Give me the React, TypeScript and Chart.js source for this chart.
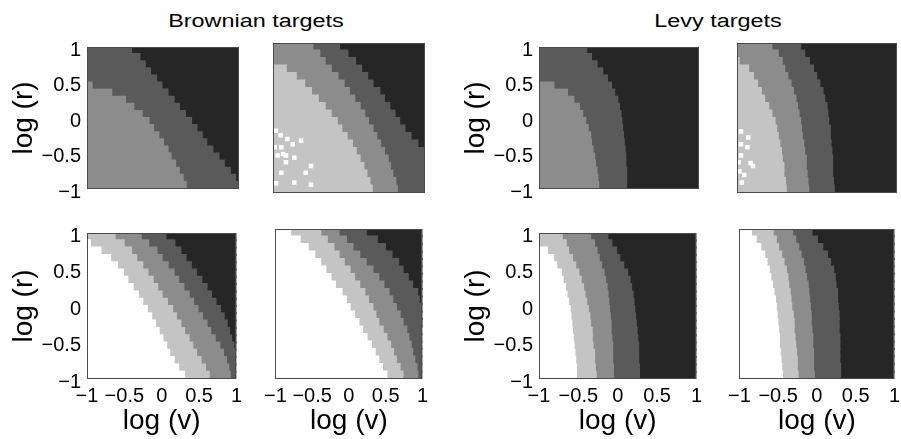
import React, { useEffect, useRef } from 'react';
import { Chart, registerables } from 'chart.js';

Chart.register(...registerables);

// ---------- data ----------
// centres of the grid rows, top to bottom (log r)
const rowCenters = [0.95, 0.85, 0.75, 0.65, 0.55, 0.45, 0.35, 0.25, 0.15, 0.05, -0.05, -0.15, -0.25, -0.35, -0.45, -0.55, -0.65, -0.75, -0.85, -0.95];
const axisTicks = [-1, -0.5, 0, 0.5, 1];
const levelColors = ['#ffffff', '#c4c4c4', '#8c8c8c', '#5a5a5a', '#262626'];
const groupTitles = ['Brownian targets', 'Levy targets'];
const xTitle = 'log (v)';
const yTitle = 'log (r)';

// For each panel: log(v) at which level >= k starts in every row (k = 1..4)
// Brownian, top-left
const brTL1 = [-1, -1, -1, -1, -1, -1, -1, -1, -1, -1, -1, -1, -1, -1, -1, -1, -1, -1, -1, -1];
const brTL2 = [-1, -1, -1, -1, -1, -1, -1, -1, -1, -1, -1, -1, -1, -1, -1, -1, -1, -1, -1, -1];
const brTL3 = [-1, -1, -1, -1, -1, -0.94, -0.68, -0.5, -0.39, -0.28, -0.19, -0.13, -0.06, 0.0, 0.06, 0.1, 0.16, 0.21, 0.26, 0.3];
const brTL4 = [-0.42, -0.31, -0.24, -0.17, -0.09, -0.02, 0.06, 0.14, 0.21, 0.29, 0.37, 0.44, 0.51, 0.57, 0.65, 0.73, 0.8, 0.88, 0.95, 0.99];
// Brownian, top-right
const brTR1 = [-1, -1, -1, -1, -1, -1, -1, -1, -1, -1, -1, -1, -1, -1, -1, -1, -1, -1, -1, -1];
const brTR2 = [-1, -1, -1, -0.83, -0.7, -0.59, -0.5, -0.41, -0.32, -0.24, -0.16, -0.1, -0.03, 0.04, 0.09, 0.14, 0.19, 0.23, 0.27, 0.3];
const brTR3 = [-0.48, -0.39, -0.32, -0.24, -0.15, -0.07, 0.0, 0.07, 0.14, 0.2, 0.25, 0.31, 0.36, 0.41, 0.46, 0.51, 0.54, 0.57, 0.61, 0.63];
const brTR4 = [-0.13, -0.02, 0.08, 0.16, 0.24, 0.31, 0.4, 0.46, 0.53, 0.6, 0.66, 0.73, 0.81, 0.9, 1, 1, 1, 1, 1, 1];
const brTRSpeckV = [-0.96, -0.9, -0.81, -0.89, -0.74, -0.63, -0.94, -0.83, -0.72, -0.83, -0.5, -0.89, -0.57, -0.96, -0.72, -0.5, -0.98, -0.87];
const brTRSpeckR = [-0.17, -0.23, -0.28, -0.39, -0.35, -0.3, -0.5, -0.5, -0.53, -0.59, -0.64, -0.73, -0.73, -0.87, -0.86, -0.89, -0.39, -0.48];
// Brownian, bottom-left
const brBL1 = [-1, -0.96, -0.82, -0.69, -0.6, -0.52, -0.46, -0.39, -0.32, -0.26, -0.2, -0.14, -0.09, -0.04, 0.01, 0.06, 0.1, 0.16, 0.22, 0.3];
const brBL2 = [-0.63, -0.51, -0.41, -0.34, -0.26, -0.19, -0.12, -0.06, 0.0, 0.07, 0.14, 0.19, 0.25, 0.3, 0.36, 0.41, 0.46, 0.52, 0.58, 0.63];
const brBL3 = [-0.28, -0.18, -0.07, 0.0, 0.08, 0.16, 0.22, 0.29, 0.36, 0.42, 0.48, 0.54, 0.6, 0.65, 0.71, 0.77, 0.82, 0.86, 0.89, 0.91];
const brBL4 = [0.05, 0.17, 0.25, 0.32, 0.39, 0.46, 0.53, 0.6, 0.66, 0.72, 0.78, 0.83, 0.87, 0.9, 0.93, 0.96, 1, 1, 1, 1];
// Brownian, bottom-right
const brBR1 = [-0.8, -0.67, -0.56, -0.47, -0.39, -0.32, -0.25, -0.19, -0.1, -0.04, 0.01, 0.07, 0.13, 0.18, 0.24, 0.3, 0.35, 0.4, 0.45, 0.51];
const brBR2 = [-0.39, -0.3, -0.21, -0.14, -0.07, 0.01, 0.07, 0.14, 0.21, 0.26, 0.32, 0.36, 0.4, 0.46, 0.51, 0.56, 0.6, 0.64, 0.69, 0.73];
const brBR3 = [-0.14, -0.04, 0.05, 0.14, 0.23, 0.32, 0.4, 0.47, 0.54, 0.59, 0.64, 0.69, 0.73, 0.78, 0.81, 0.84, 0.86, 0.89, 0.92, 0.93];
const brBR4 = [0.23, 0.38, 0.49, 0.58, 0.67, 0.73, 0.8, 0.86, 0.93, 0.95, 0.97, 0.98, 0.99, 1, 1, 1, 1, 1, 1, 1];
// Levy, top-left
const lvTL1 = [-1, -1, -1, -1, -1, -1, -1, -1, -1, -1, -1, -1, -1, -1, -1, -1, -1, -1, -1, -1];
const lvTL2 = [-1, -1, -1, -1, -1, -1, -1, -1, -1, -1, -1, -1, -1, -1, -1, -1, -1, -1, -1, -1];
const lvTL3 = [-1, -1, -1, -1, -1, -0.82, -0.65, -0.57, -0.5, -0.46, -0.42, -0.39, -0.36, -0.35, -0.33, -0.31, -0.3, -0.28, -0.27, -0.26];
const lvTL4 = [-0.41, -0.35, -0.28, -0.21, -0.15, -0.1, -0.06, -0.02, 0.0, 0.02, 0.03, 0.04, 0.05, 0.06, 0.07, 0.08, 0.08, 0.09, 0.09, 0.09];
// Levy, top-right
const lvTR1 = [-1, -1, -1, -1, -1, -1, -1, -1, -1, -1, -1, -1, -1, -1, -1, -1, -1, -1, -1, -1];
const lvTR2 = [-1, -1, -0.98, -0.86, -0.8, -0.75, -0.7, -0.66, -0.61, -0.57, -0.53, -0.51, -0.49, -0.47, -0.45, -0.44, -0.42, -0.42, -0.4, -0.39];
const lvTR3 = [-0.57, -0.49, -0.44, -0.41, -0.37, -0.33, -0.3, -0.27, -0.25, -0.23, -0.21, -0.2, -0.19, -0.17, -0.16, -0.14, -0.14, -0.13, -0.12, -0.11];
const lvTR4 = [-0.21, -0.16, -0.1, -0.05, -0.01, 0.03, 0.07, 0.09, 0.12, 0.13, 0.14, 0.16, 0.16, 0.17, 0.18, 0.19, 0.19, 0.19, 0.2, 0.21];
const lvTRSpeckV = [-0.95, -0.95, -0.87, -0.95, -0.83, -0.97, -0.91, -0.8, -0.94, -0.86, -0.98];
const lvTRSpeckR = [-0.18, -0.35, -0.39, -0.5, -0.6, -0.71, -0.76, -0.64, -0.86, -0.26, -0.59];
// Levy, bottom-left
const lvBL1 = [-1, -1, -0.9, -0.82, -0.78, -0.72, -0.7, -0.67, -0.65, -0.63, -0.61, -0.6, -0.59, -0.58, -0.57, -0.56, -0.55, -0.54, -0.53, -0.53];
const lvBL2 = [-0.71, -0.66, -0.63, -0.58, -0.54, -0.5, -0.47, -0.44, -0.42, -0.4, -0.38, -0.36, -0.35, -0.33, -0.33, -0.32, -0.3, -0.3, -0.29, -0.28];
const lvBL3 = [-0.35, -0.3, -0.27, -0.24, -0.21, -0.18, -0.16, -0.14, -0.13, -0.12, -0.11, -0.1, -0.09, -0.09, -0.08, -0.07, -0.07, -0.07, -0.06, -0.06];
const lvBL4 = [-0.13, -0.08, -0.02, 0.02, 0.07, 0.12, 0.15, 0.17, 0.19, 0.2, 0.21, 0.22, 0.23, 0.24, 0.25, 0.26, 0.26, 0.26, 0.27, 0.27];
// Levy, bottom-right
const lvBR1 = [-0.85, -0.79, -0.73, -0.68, -0.65, -0.62, -0.6, -0.58, -0.56, -0.54, -0.53, -0.52, -0.51, -0.5, -0.49, -0.49, -0.48, -0.47, -0.46, -0.45];
const lvBR2 = [-0.57, -0.53, -0.5, -0.46, -0.43, -0.4, -0.38, -0.37, -0.35, -0.34, -0.33, -0.31, -0.3, -0.3, -0.29, -0.28, -0.27, -0.26, -0.26, -0.25];
const lvBR3 = [-0.32, -0.28, -0.24, -0.21, -0.18, -0.16, -0.14, -0.12, -0.11, -0.1, -0.09, -0.08, -0.08, -0.07, -0.06, -0.06, -0.05, -0.05, -0.05, -0.04];
const lvBR4 = [-0.07, 0.0, 0.07, 0.13, 0.17, 0.21, 0.23, 0.24, 0.26, 0.26, 0.27, 0.28, 0.28, 0.28, 0.29, 0.29, 0.29, 0.29, 0.3, 0.3];

// ---------- layout ----------
const FONT = "'Liberation Sans', Arial, Helvetica, sans-serif";
const colLefts = [87, 273, 539, 737];
const colWidths = [152, 152, 160, 160];
const rowTops = [43, 229];
const panelH = 150;
const titleCenters = [256, 718];

type PanelSpec = {
  bounds: number[][];
  speckV: number[];
  speckR: number[];
  col: number;
  row: number;
};

const panels: PanelSpec[] = [
  { bounds: [brTL1, brTL2, brTL3, brTL4], speckV: [], speckR: [], col: 0, row: 0 },
  { bounds: [brTR1, brTR2, brTR3, brTR4], speckV: brTRSpeckV, speckR: brTRSpeckR, col: 1, row: 0 },
  { bounds: [brBL1, brBL2, brBL3, brBL4], speckV: [], speckR: [], col: 0, row: 1 },
  { bounds: [brBR1, brBR2, brBR3, brBR4], speckV: [], speckR: [], col: 1, row: 1 },
  { bounds: [lvTL1, lvTL2, lvTL3, lvTL4], speckV: [], speckR: [], col: 2, row: 0 },
  { bounds: [lvTR1, lvTR2, lvTR3, lvTR4], speckV: lvTRSpeckV, speckR: lvTRSpeckR, col: 3, row: 0 },
  { bounds: [lvBL1, lvBL2, lvBL3, lvBL4], speckV: [], speckR: [], col: 2, row: 1 },
  { bounds: [lvBR1, lvBR2, lvBR3, lvBR4], speckV: [], speckR: [], col: 3, row: 1 },
];

const fmt = (v: number) => (v === 0 ? '0' : (v < 0 ? '\u2212' : '') + String(Math.abs(v)));

function buildDatasets(spec: PanelSpec) {
  const sets: any[] = levelColors.map((color, k) => ({
    type: 'bar',
    label: 'level ' + k,
    indexAxis: 'y',
    grouped: false,
    order: 1,
    backgroundColor: color,
    borderWidth: 0,
    inflateAmount: 1,
    barPercentage: 1,
    categoryPercentage: 1,
    data: [] as any[],
  }));
  rowCenters.forEach((r, i) => {
    const edges = [-1, ...spec.bounds.map((b) => b[i]), 1];
    let prev = -1;
    for (let k = 0; k < 5; k++) {
      const start = Math.max(prev, edges[k]);
      const end = Math.max(start, Math.min(1, edges[k + 1]));
      if (end > start) sets[k].data.push({ x: [start, end], y: r });
      prev = end;
    }
  });
  if (spec.speckV.length) {
    sets.push({
      type: 'scatter',
      label: 'specks',
      indexAxis: 'x',
      order: -1,
      showLine: false,
      pointStyle: 'rect',
      pointRadius: 3.2,
      pointBorderWidth: 0,
      borderWidth: 0,
      backgroundColor: '#ffffff',
      pointBackgroundColor: '#ffffff',
      data: spec.speckV.map((v, i) => ({ x: v, y: spec.speckR[i] })),
    });
  }
  return sets;
}

const framePlugin = {
  id: 'panelFrame',
  afterDatasetsDraw(chart: any) {
    const { ctx, chartArea: a } = chart;
    ctx.save();
    ctx.strokeStyle = '#4a4a4a';
    ctx.lineWidth = 1;
    ctx.strokeRect(Math.round(a.left) + 0.5, Math.round(a.top) + 0.5, Math.round(a.right - a.left) - 1, Math.round(a.bottom - a.top) - 1);
    ctx.restore();
  },
};

function Panel({ spec }: { spec: PanelSpec }) {
  const ref = useRef<HTMLCanvasElement>(null);
  const showY = spec.col === 0 || spec.col === 2;
  const showX = spec.row === 1;
  const axisW = showY ? 80 : 14;
  const axisH = showX ? 59 : 14;
  const padTop = 14;
  const padRight = 8;
  const left = colLefts[spec.col] - axisW;
  const top = rowTops[spec.row] - padTop;
  const width = axisW + colWidths[spec.col] + padRight;
  const height = padTop + panelH + axisH;

  useEffect(() => {
    if (!ref.current) return;
    const chart = new Chart(ref.current, {
      type: 'bar',
      data: { datasets: buildDatasets(spec) },
      options: {
        responsive: true,
        maintainAspectRatio: false,
        animation: false,
        events: [],
        indexAxis: 'y',
        layout: { padding: { top: padTop, right: padRight, left: 0, bottom: 0 } },
        plugins: { legend: { display: false }, tooltip: { enabled: false }, title: { display: false } },
        scales: {
          x: {
            type: 'linear',
            position: 'bottom',
            min: -1,
            max: 1,
            offset: false,
            grid: { display: false, drawTicks: false, offset: false },
            border: { display: false },
            afterBuildTicks: (s: any) => {
              s.ticks = axisTicks.map((v) => ({ value: v }));
            },
            afterFit: (s: any) => {
              s.height = axisH;
            },
            ticks: {
              display: showX,
              autoSkip: false,
              maxRotation: 0,
              minRotation: 0,
              padding: 5,
              color: '#000',
              font: { family: FONT, size: 20 },
              callback: (v: any) => fmt(Number(v)),
            },
            title: { display: showX, text: xTitle, color: '#000', font: { family: FONT, size: 28 }, padding: 0 },
          },
          y: {
            type: 'linear',
            position: 'left',
            min: -1,
            max: 1,
            offset: false,
            grid: { display: false, drawTicks: false, offset: false },
            border: { display: false },
            afterBuildTicks: (s: any) => {
              s.ticks = axisTicks.map((v) => ({ value: v }));
            },
            afterFit: (s: any) => {
              s.width = axisW;
            },
            ticks: {
              display: showY,
              autoSkip: false,
              padding: 6,
              labelOffset: 3,
              color: '#000',
              font: { family: FONT, size: 20 },
              callback: (v: any) => fmt(Number(v)),
            },
            title: { display: showY, text: yTitle, color: '#000', font: { family: FONT, size: 28 }, padding: 0 },
          },
        },
      } as any,
      plugins: [framePlugin],
    });
    return () => chart.destroy();
  }, []);

  return (
    <div style={{ position: 'absolute', left, top, width, height }}>
      <canvas ref={ref} />
    </div>
  );
}

export default function App() {
  return (
    <div style={{ position: 'absolute', left: 0, top: 0, width: 901, height: 439, overflow: 'hidden', background: '#fff' }}>
      {groupTitles.map((t, i) => (
        <div
          key={t}
          style={{
            position: 'absolute',
            left: titleCenters[i] - 150,
            top: 10,
            width: 300,
            textAlign: 'center',
            fontFamily: FONT,
            fontSize: 18,
            lineHeight: '22px',
            color: '#000',
            whiteSpace: 'nowrap',
            transform: 'scaleX(1.3)',
            transformOrigin: '50% 50%',
          }}
        >
          {t}
        </div>
      ))}
      {panels.map((p, i) => (
        <Panel key={i} spec={p} />
      ))}
    </div>
  );
}
